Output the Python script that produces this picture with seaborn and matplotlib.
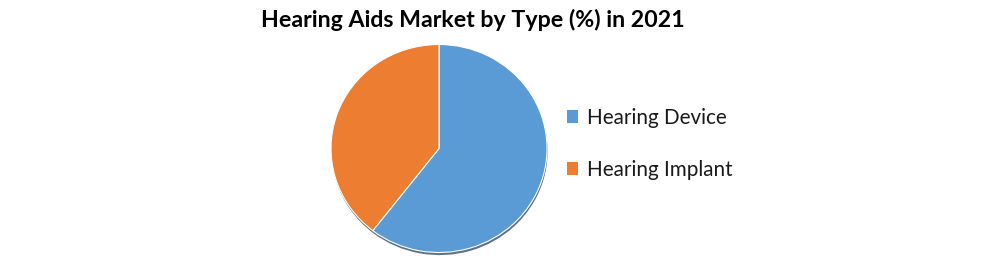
import matplotlib
matplotlib.use("Agg")
import matplotlib.pyplot as plt
import seaborn as sns
from matplotlib.patches import Patch

categories = ["Hearing Device", "Hearing Implant"]
shares = [60.5, 39.5]
title = "Hearing Aids Market by Type (%) in 2021"

sns.set_theme(style="white")
plt.rcParams['font.family'] = ['Lato', 'DejaVu Sans']
colors = ["#5B9BD5", "#ED7D31"]

fig = plt.figure(figsize=(9.89, 2.61), dpi=100)
W, H = 989, 261
cx, cy, rx, ry = 439, 148.5, 108, 104
ax = fig.add_axes([(cx - rx) / W, (H - cy - ry) / H, 2 * rx / W, 2 * ry / H])

# shadow
ax.pie(shares, colors=["#34506e", "#5e4128"], startangle=90, counterclock=False,
       radius=1.0, center=(0.006, -0.025),
       wedgeprops=dict(linewidth=0, alpha=0.8))
wedges, _ = ax.pie(shares, colors=colors, startangle=90, counterclock=False,
                   radius=1.0, wedgeprops=dict(edgecolor="white", linewidth=0.8))
ax.set_xlim(-1, 1)
ax.set_ylim(-1, 1)
ax.set_aspect("auto")
ax.axis("off")

fig.text(472.5 / W, 1 - 20 / H, title, ha="center", va="center",
         fontsize=16.7, fontweight="bold", color="black")

handles = [Patch(facecolor=c, edgecolor="none") for c in colors]
leg = fig.legend(handles, categories, loc="center left",
                 bbox_to_anchor=(567 / W, 1 - 144 / H), frameon=False,
                 fontsize=14.9, handlelength=0.55, handleheight=0.55,
                 handletextpad=0.4, labelspacing=1.55, borderaxespad=0,
                 borderpad=0)
for t in leg.get_texts():
    t.set_color("#1a1a1a")

fig.savefig("out.png", dpi=100)
